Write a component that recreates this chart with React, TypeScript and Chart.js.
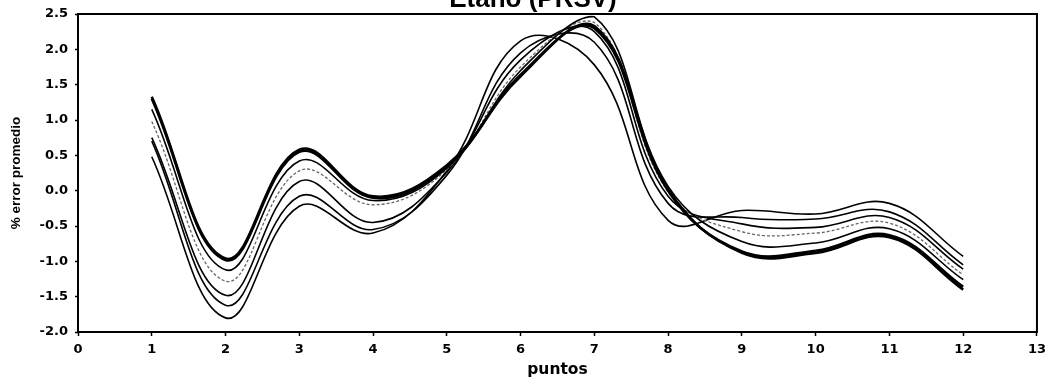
import React, { useEffect, useRef } from "react";
import { Chart, registerables } from "chart.js";

Chart.register(...registerables);

const puntos = [1, 2, 3, 4, 5, 6, 7, 8, 9, 10, 11, 12];
const yTicks = [-2.0, -1.5, -1.0, -0.5, 0.0, 0.5, 1.0, 1.5, 2.0, 2.5];
const xTicks = [0, 1, 2, 3, 4, 5, 6, 7, 8, 9, 10, 11, 12, 13];
const titulo = "Etano (PRSV)";

const serie1 = [1.33, -0.96, 0.58, -0.08, 0.36, 1.62, 2.33, 0.02, -0.88, -0.88, -0.66, -1.40];
const serie2 = [1.30, -0.98, 0.55, -0.10, 0.34, 1.64, 2.30, 0.00, -0.86, -0.85, -0.63, -1.36];
const serie3 = [1.15, -1.12, 0.42, -0.14, 0.32, 1.70, 2.46, 0.06, -0.72, -0.74, -0.54, -1.26];
const serie4 = [0.98, -1.28, 0.28, -0.20, 0.30, 1.75, 2.38, -0.02, -0.58, -0.60, -0.46, -1.19];
const serie5 = [0.75, -1.48, 0.13, -0.45, 0.26, 1.85, 2.25, -0.08, -0.47, -0.52, -0.38, -1.11];
const serie6 = [0.70, -1.62, -0.08, -0.55, 0.22, 1.95, 2.10, -0.18, -0.38, -0.40, -0.30, -1.05];
const serie7 = [0.48, -1.80, -0.22, -0.60, 0.28, 2.12, 1.78, -0.42, -0.28, -0.33, -0.18, -0.93];

const series = [serie1, serie2, serie3, serie4, serie5, serie6, serie7];

const OFFSET = 18;

const boxPlugin = {
  id: "boxPlugin",
  afterDraw(chart: any) {
    const { ctx, chartArea } = chart;
    ctx.save();
    ctx.strokeStyle = "#000";
    ctx.lineWidth = 2;
    ctx.strokeRect(chartArea.left, chartArea.top, chartArea.right - chartArea.left, chartArea.bottom - chartArea.top);
    ctx.fillStyle = "#000";
    ctx.font = "bold 26px 'Liberation Sans', Arial, sans-serif";
    ctx.textAlign = "center";
    ctx.textBaseline = "alphabetic";
    ctx.fillText(titulo, 533, OFFSET + 7);
    ctx.restore();
  },
};

export default function App() {
  const ref = useRef<HTMLCanvasElement | null>(null);
  useEffect(() => {
    if (!ref.current) return;
    const datasets = series.map((s, i) => ({
      label: "Serie " + (i + 1),
      data: puntos.map((x, j) => ({ x, y: s[j] })),
      borderColor: i === 3 ? "#666" : "#000",
      borderWidth: i < 2 ? 2.6 : i === 3 ? 1.3 : 1.6,
      borderDash: i === 3 ? [3, 2] : [],
      pointRadius: 0,
      tension: 0.4,
      fill: false,
    }));
    const chart = new Chart(ref.current, {
      type: "line",
      data: { datasets },
      options: {
        responsive: false,
        animation: false,
        layout: { padding: { left: 0, right: 9, top: 32, bottom: 0 } },
        plugins: {
          legend: { display: false },
          tooltip: { enabled: false },
          title: { display: false },
        },
        scales: {
          x: {
            type: "linear",
            min: 0,
            max: 13,
            afterFit: (s: any) => { s.height = 46; },
            afterBuildTicks: (s: any) => { s.ticks = xTicks.map((v) => ({ value: v })); },
            ticks: {
              color: "#000",
              padding: 6,
              font: { family: "'DejaVu Sans', sans-serif", size: 13, weight: "bold" },
              callback: (v: any) => String(v),
            },
            grid: { display: true, drawOnChartArea: false, drawTicks: true, tickLength: 4, tickColor: "#000", tickWidth: 1.5 },
            border: { display: false },
            title: {
              display: true,
              text: "puntos",
              color: "#000",
              font: { family: "'DejaVu Sans', sans-serif", size: 15.5, weight: "bold", lineHeight: 1.1 },
              padding: { top: 0, bottom: 0 },
            },
          },
          y: {
            type: "linear",
            min: -2,
            max: 2.5,
            afterFit: (s: any) => { s.width = 78; },
            afterBuildTicks: (s: any) => { s.ticks = yTicks.map((v) => ({ value: v })); },
            ticks: {
              color: "#000",
              padding: 7,
              font: { family: "'DejaVu Sans', sans-serif", size: 13, weight: "bold" },
              callback: (v: any) => Number(v).toFixed(1),
            },
            grid: { display: true, drawOnChartArea: false, drawTicks: true, tickLength: 3, tickColor: "#000", tickWidth: 1.5 },
            border: { display: false },
            title: {
              display: true,
              text: "% error promedio",
              color: "#000",
              font: { family: "'Liberation Sans', Arial, sans-serif", size: 13.5, weight: "bold", lineHeight: 1.2 },
              padding: { top: 8.4, bottom: 0 },
            },
          },
        },
      },
      plugins: [boxPlugin],
    });
    return () => chart.destroy();
  }, []);
  return (
    <div style={{ position: "absolute", left: 0, top: -OFFSET, width: 1052, height: 378 + OFFSET, background: "#fff" }}>
      <canvas ref={ref} width={1052} height={378 + OFFSET} style={{ display: "block", width: 1052, height: 378 + OFFSET }} />
    </div>
  );
}
